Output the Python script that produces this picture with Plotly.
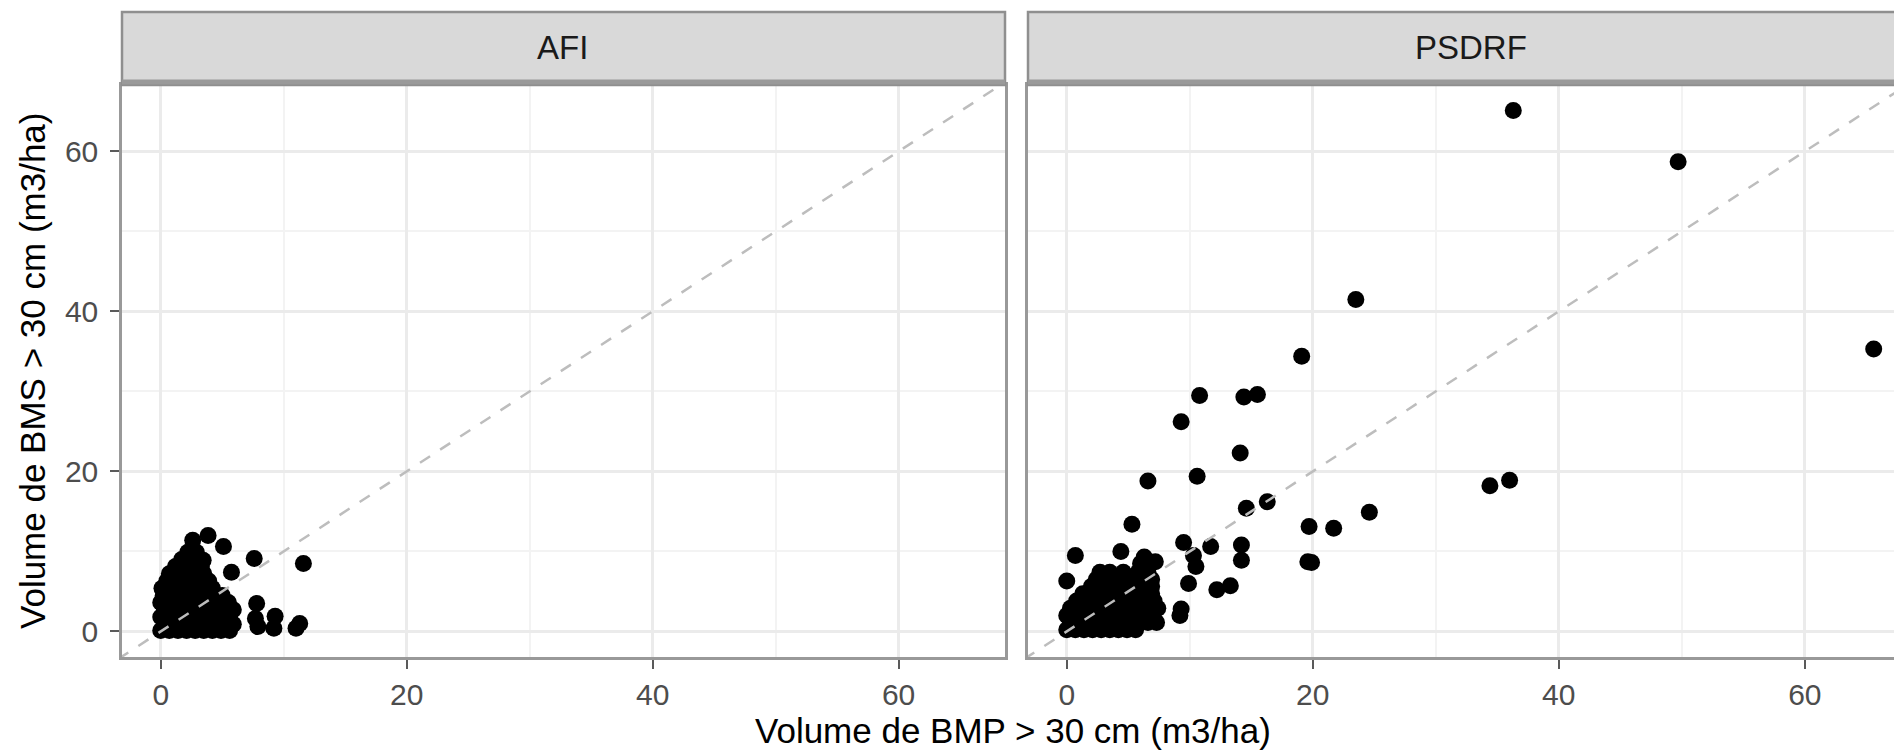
import plotly.graph_objects as go

# ---------------- data ----------------
panels = ["AFI", "PSDRF"]

afi_x = [0.0, 0.7, 1.4, 2.1, 2.8, 3.5, 4.2, 4.9, 5.6,
         0.3, 1.0, 1.7, 2.4, 3.1, 3.8, 4.5, 5.2, 5.9,
         0.0, 0.7, 1.4, 2.1, 2.8, 3.5, 4.2, 4.9, 5.6,
         0.3, 1.0, 1.7, 2.4, 3.1, 3.8, 4.5, 5.2, 5.9,
         0.0, 0.7, 1.4, 2.1, 2.8, 3.5, 4.2, 4.9, 5.5,
         0.2, 0.9, 1.6, 2.3, 3.0, 3.7, 4.4, 5.0,
         0.1, 0.8, 1.5, 2.2, 2.9, 3.6, 4.2,
         0.5, 1.2, 1.9, 2.6, 3.3, 3.9,
         0.7, 1.4, 2.1, 2.8, 3.5,
         1.2, 1.9, 2.6, 3.3,
         1.7, 2.4, 3.1,
         2.2, 2.9,
         2.6, 3.85, 3.45, 5.1, 5.75, 7.6, 11.6, 11.3, 11.0, 7.8, 7.9, 7.7, 9.3, 9.2]
afi_y = [0.1, 0.1, 0.1, 0.1, 0.1, 0.1, 0.1, 0.1, 0.1,
         0.9, 0.9, 0.9, 0.9, 0.9, 0.9, 0.9, 0.9, 0.9,
         1.8, 1.8, 1.8, 1.8, 1.8, 1.8, 1.8, 1.8, 1.8,
         2.7, 2.7, 2.7, 2.7, 2.7, 2.7, 2.7, 2.7, 2.7,
         3.6, 3.6, 3.6, 3.6, 3.6, 3.6, 3.6, 3.6, 3.6,
         4.5, 4.5, 4.5, 4.5, 4.5, 4.5, 4.5, 4.5,
         5.4, 5.4, 5.4, 5.4, 5.4, 5.4, 5.4,
         6.3, 6.3, 6.3, 6.3, 6.3, 6.3,
         7.2, 7.2, 7.2, 7.2, 7.2,
         8.1, 8.1, 8.1, 8.1,
         9.0, 9.0, 9.0,
         9.9, 9.9,
         11.4, 12.0, 8.9, 10.6, 7.4, 9.1, 8.5, 1.0, 0.4, 3.5, 0.6, 1.6, 1.9, 0.4]

psdrf_x = [0.0, 0.7, 1.4, 2.1, 2.8, 3.5, 4.2, 4.9, 5.6,
           0.3, 1.0, 1.7, 2.4, 3.1, 3.8, 4.5, 5.2, 5.9, 6.6, 7.3,
           0.0, 0.7, 1.4, 2.1, 2.8, 3.5, 4.2, 4.9, 5.6, 6.3, 7.0,
           0.3, 1.0, 1.7, 2.4, 3.1, 3.8, 4.5, 5.2, 5.9, 6.6, 7.4,
           0.8, 1.5, 2.2, 2.9, 3.6, 4.3, 5.0, 5.7, 6.4, 7.1,
           1.3, 2.0, 2.7, 3.4, 4.1, 4.8, 5.5, 6.2, 6.9,
           2.0, 2.7, 3.4, 4.1, 4.8, 5.5, 6.2, 6.9,
           2.4, 3.1, 3.8, 4.5, 5.2, 6.4, 6.9,
           2.7, 3.5, 4.6, 5.8, 6.6,
           6.0, 6.8,
           0.7, 4.4, 6.3, 7.2, 0.0,
           9.5, 11.7, 10.3, 10.5, 9.9, 12.2, 13.3, 9.3, 9.2,
           14.2, 14.2, 19.7, 21.7, 19.6, 19.9, 5.3, 24.6, 14.6, 16.3,
           10.6, 6.6, 14.1, 9.3, 10.8, 14.4, 15.5, 19.1, 23.5, 34.4, 36.0, 36.3, 49.7, 65.6]
psdrf_y = [0.2, 0.2, 0.2, 0.2, 0.2, 0.2, 0.2, 0.2, 0.2,
           1.1, 1.1, 1.1, 1.1, 1.1, 1.1, 1.1, 1.1, 1.1, 1.1, 1.1,
           2.0, 2.0, 2.0, 2.0, 2.0, 2.0, 2.0, 2.0, 2.0, 2.0, 2.0,
           2.9, 2.9, 2.9, 2.9, 2.9, 2.9, 2.9, 2.9, 2.9, 2.9, 2.9,
           3.8, 3.8, 3.8, 3.8, 3.8, 3.8, 3.8, 3.8, 3.8, 3.8,
           4.7, 4.7, 4.7, 4.7, 4.7, 4.7, 4.7, 4.7, 4.7,
           5.6, 5.6, 5.6, 5.6, 5.6, 5.6, 5.6, 5.6,
           6.5, 6.5, 6.5, 6.5, 6.5, 6.5, 6.5,
           7.4, 7.4, 7.4, 7.4, 7.4,
           8.5, 8.5,
           9.5, 10.0, 9.3, 8.7, 6.3,
           11.1, 10.6, 9.5, 8.1, 6.0, 5.2, 5.7, 2.8, 2.0,
           10.8, 8.9, 13.1, 12.9, 8.7, 8.6, 13.4, 14.9, 15.4, 16.2,
           19.4, 18.8, 22.3, 26.2, 29.5, 29.3, 29.6, 34.4, 41.5, 18.2, 18.9, 65.1, 58.7, 35.3]

ref_line = [-10, 80]
major_ticks = [0, 20, 40, 60]
minor_ticks = [10, 30, 50]

# ---------------- layout geometry ----------------
W, H = 1894, 752
FONT = "Liberation Sans, Arial, Helvetica, sans-serif"
left_dom = [122 / W, 1005 / W]
right_dom = [1028 / W, 1.0]
y_dom = [(H - 657) / H, (H - 85) / H]
strip_y = [(H - 85) / H, (H - 12) / H]

fig = go.Figure()

marker = dict(color="black", size=17, line=dict(width=0))
dash_line = dict(color="#bdbdbd", width=2.5, dash="12px,12px")

fig.add_trace(go.Scatter(x=afi_x, y=afi_y, mode="markers", marker=marker,
                         xaxis="x", yaxis="y", showlegend=False, hoverinfo="x+y"))
fig.add_trace(go.Scatter(x=ref_line, y=ref_line, mode="lines", line=dash_line,
                         xaxis="x", yaxis="y", showlegend=False, hoverinfo="skip"))
fig.add_trace(go.Scatter(x=psdrf_x, y=psdrf_y, mode="markers", marker=marker,
                         xaxis="x2", yaxis="y2", showlegend=False, hoverinfo="x+y"))
fig.add_trace(go.Scatter(x=ref_line, y=ref_line, mode="lines", line=dash_line,
                         xaxis="x2", yaxis="y2", showlegend=False, hoverinfo="skip"))

common = dict(
    tickmode="array", tickvals=major_ticks,
    ticklen=9, tickwidth=2, tickcolor="#5a5a5a",
    tickfont=dict(family=FONT, size=30, color="#4d4d4d"),
    showgrid=True, gridcolor="#ebebeb", gridwidth=2.5,
    minor=dict(tickvals=minor_ticks, showgrid=True, gridcolor="#f3f3f3", gridwidth=1.5),
    zeroline=False, showline=True, linecolor="#999999", linewidth=2.5,
)

fig.update_layout(
    width=W, height=H,
    margin=dict(l=0, r=0, t=0, b=0),
    paper_bgcolor="white", plot_bgcolor="white",
    font=dict(family=FONT),
    xaxis=dict(domain=left_dom, range=[-3.15, 68.65], anchor="y", mirror=True,
               ticks="outside", **common),
    yaxis=dict(domain=y_dom, range=[-3.2, 68.3], anchor="x", mirror=True,
               ticks="outside", ticklabelstandoff=6, **common),
    xaxis2=dict(domain=right_dom, range=[-3.15, 67.25], anchor="y2", mirror=True,
                ticks="outside", **common),
    yaxis2=dict(domain=y_dom, range=[-3.2, 68.3], anchor="x2", mirror=False,
                showticklabels=False, ticks="", **common),
)

shapes = []
for x0, x1 in [(left_dom[0], left_dom[1]), (right_dom[0], 1.01)]:
    shapes.append(dict(type="rect", xref="paper", yref="paper", x0=x0, x1=x1,
                       y0=strip_y[0], y1=strip_y[1], fillcolor="#d9d9d9",
                       line=dict(color="#8f8f8f", width=2.5), layer="above"))
    shapes.append(dict(type="line", xref="paper", yref="paper", x0=x0, x1=x1,
                       y0=(H - 82) / H, y1=(H - 82) / H,
                       line=dict(color="#9a9a9a", width=5), layer="above"))
fig.update_layout(shapes=shapes)

annotations = [
    dict(text=panels[0], x=562 / W, y=(H - 48) / H, xref="paper", yref="paper",
         showarrow=False, font=dict(family=FONT, size=33, color="#1a1a1a"),
         xanchor="center", yanchor="middle"),
    dict(text=panels[1], x=1471 / W, y=(H - 48) / H, xref="paper", yref="paper",
         showarrow=False, font=dict(family=FONT, size=33, color="#1a1a1a"),
         xanchor="center", yanchor="middle"),
    dict(text="Volume de BMP > 30 cm (m3/ha)", x=1013 / W, y=(H - 730) / H,
         xref="paper", yref="paper", showarrow=False,
         font=dict(family=FONT, size=35, color="black"), xanchor="center", yanchor="middle"),
    dict(text="Volume de BMS > 30 cm (m3/ha)", x=32 / W, y=(H - 371) / H,
         xref="paper", yref="paper", showarrow=False, textangle=-90,
         font=dict(family=FONT, size=35, color="black"), xanchor="center", yanchor="middle"),
]
fig.update_layout(annotations=annotations)

fig.write_html("out.html", config={"displayModeBar": False},
               post_script="document.body.style.margin='0';document.body.style.overflow='hidden';")
